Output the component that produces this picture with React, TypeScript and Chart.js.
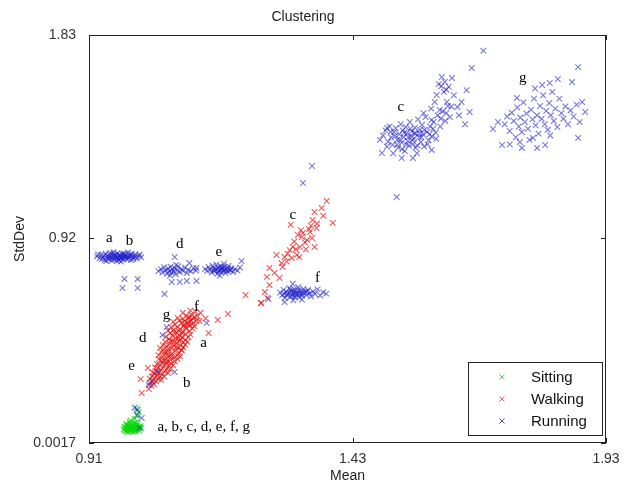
import React, { useEffect, useRef } from 'react';
import { Chart, registerables } from 'chart.js';

Chart.register(...registerables);

const chartTitle = 'Clustering';
const xAxisTitle = 'Mean';
const yAxisTitle = 'StdDev';
const xMin = 0.91;
const xMax = 1.93;
const yMin = 0.0017;
const yMax = 1.83;
const xTickValues = [0.91, 1.43, 1.93];
const xTickLabels = ['0.91', '1.43', '1.93'];
const yTickValues = [0.0017, 0.92, 1.83];
const yTickLabels = ['0.0017', '0.92', '1.83'];

const seriesNames = ['Sitting', 'Walking', 'Running'];
const seriesColors = ['rgba(10,215,10,0.8)', 'rgba(232,12,12,0.68)', 'rgba(30,30,200,0.6)'];
const legendColors = ['#66cc66', '#cc6666', '#555599'];

const sitting: [number, number][] = [
  [0.978, 0.062], [0.980, 0.075], [0.982, 0.055], [0.983, 0.088], [0.985, 0.068], [0.986, 0.050],
  [0.987, 0.080], [0.989, 0.062], [0.990, 0.095], [0.991, 0.072], [0.993, 0.056], [0.994, 0.084],
  [0.995, 0.066], [0.997, 0.077], [0.998, 0.052], [0.999, 0.090], [1.001, 0.070], [1.002, 0.060],
  [1.004, 0.082], [1.005, 0.066], [1.007, 0.074], [1.009, 0.058], [1.011, 0.078], [1.013, 0.068],
  [0.988, 0.070], [0.996, 0.060], [1.003, 0.092], [0.992, 0.102], [1.000, 0.110], [1.006, 0.125],
  [1.008, 0.140], [1.004, 0.155],
  [0.984, 0.060], [0.988, 0.058], [0.992, 0.065], [0.996, 0.072], [1.000, 0.064], [1.003, 0.076],
  [1.007, 0.063], [1.010, 0.072], [0.981, 0.068], [0.985, 0.078], [0.990, 0.082], [0.994, 0.070],
  [0.998, 0.080], [1.002, 0.054], [1.006, 0.086],
];

const walking: [number, number][] = [
  [1.028, 0.245], [1.033, 0.258], [1.030, 0.272], [1.038, 0.265], [1.036, 0.283], [1.042, 0.278],
  [1.040, 0.295], [1.047, 0.288], [1.034, 0.300], [1.045, 0.305], [1.051, 0.298], [1.039, 0.312],
  [1.048, 0.318], [1.055, 0.312], [1.043, 0.325], [1.052, 0.330], [1.060, 0.322], [1.046, 0.338],
  [1.057, 0.342], [1.064, 0.335], [1.050, 0.350], [1.061, 0.355], [1.068, 0.348], [1.054, 0.362],
  [1.066, 0.366], [1.072, 0.358], [1.058, 0.372], [1.048, 0.378], [1.063, 0.380], [1.071, 0.375],
  [1.078, 0.385], [1.055, 0.388], [1.068, 0.392], [1.084, 0.394], [1.060, 0.400], [1.074, 0.403],
  [1.088, 0.405], [1.052, 0.410], [1.066, 0.413], [1.080, 0.415], [1.093, 0.418], [1.058, 0.422],
  [1.072, 0.426], [1.086, 0.428], [1.063, 0.434], [1.077, 0.437], [1.091, 0.440], [1.069, 0.446],
  [1.083, 0.449], [1.096, 0.452], [1.074, 0.458], [1.088, 0.460], [1.100, 0.463], [1.068, 0.468],
  [1.081, 0.471], [1.094, 0.474], [1.106, 0.477], [1.075, 0.482], [1.088, 0.486], [1.100, 0.489],
  [1.070, 0.494], [1.083, 0.497], [1.095, 0.500], [1.108, 0.503], [1.077, 0.508], [1.090, 0.512],
  [1.102, 0.515], [1.084, 0.522], [1.097, 0.526], [1.110, 0.529], [1.080, 0.533], [1.092, 0.537],
  [1.104, 0.540], [1.098, 0.548], [1.112, 0.552], [1.088, 0.550], [1.106, 0.560], [1.118, 0.565],
  [1.095, 0.558],
  [1.030, 0.290], [1.052, 0.285], [1.058, 0.300], [1.036, 0.318], [1.066, 0.315], [1.040, 0.340],
  [1.070, 0.332], [1.044, 0.356], [1.076, 0.350], [1.047, 0.395], [1.079, 0.368], [1.085, 0.378],
  [1.050, 0.428], [1.090, 0.390], [1.096, 0.430], [1.100, 0.442], [1.056, 0.440], [1.060, 0.455],
  [1.062, 0.478], [1.104, 0.455], [1.110, 0.488], [1.066, 0.505], [1.072, 0.520], [1.114, 0.515],
  [1.116, 0.538], [1.076, 0.545], [1.085, 0.562], [1.102, 0.572], [1.112, 0.578], [1.095, 0.585],
  [1.120, 0.590], [1.078, 0.498], [1.086, 0.472], [1.092, 0.418], [1.065, 0.398], [1.082, 0.430],
  [1.070, 0.460], [1.094, 0.492], [1.098, 0.535], [1.108, 0.545], [1.073, 0.390], [1.059, 0.410],
  [1.053, 0.370], [1.062, 0.365], [1.067, 0.425], [1.079, 0.455], [1.091, 0.465], [1.087, 0.505],
  [1.100, 0.520], [1.106, 0.530],
  [1.115, 0.560], [1.122, 0.548], [1.118, 0.525], [1.124, 0.570], [1.110, 0.595],
  [1.184, 0.580], [1.146, 0.494], [1.108, 0.566], [1.219, 0.665], [1.249, 0.629], [1.012, 0.288],
  [1.014, 0.226], [1.026, 0.338], [1.130, 0.585], [1.140, 0.560], [1.128, 0.548], [1.164, 0.553],
  [1.379, 1.086], [1.355, 1.037], [1.369, 1.055], [1.391, 0.988], [1.308, 0.979], [1.351, 1.001],
  [1.359, 0.965], [1.346, 0.947], [1.332, 0.943], [1.322, 0.934], [1.350, 0.920], [1.340, 0.911],
  [1.355, 0.880], [1.326, 0.880], [1.312, 0.880], [1.306, 0.866], [1.320, 0.844], [1.296, 0.835],
  [1.310, 0.831], [1.280, 0.844], [1.290, 0.808], [1.266, 0.786], [1.276, 0.764], [1.261, 0.746],
  [1.286, 0.741], [1.266, 0.710], [1.250, 0.629], [1.262, 0.652], [1.257, 0.678], [1.330, 0.925],
  [1.336, 0.900], [1.318, 0.870], [1.302, 0.850], [1.344, 0.960], [1.328, 0.955], [1.315, 0.905],
  [1.338, 0.870], [1.325, 0.835], [1.300, 0.815], [1.292, 0.790], [1.360, 0.985], [1.372, 1.020],
  [1.348, 0.975],
];

const running: [number, number][] = [
  // a, b
  [0.926, 0.838], [0.931, 0.829], [0.934, 0.845], [0.938, 0.834], [0.941, 0.822], [0.943, 0.850],
  [0.946, 0.839], [0.948, 0.828], [0.951, 0.844], [0.953, 0.833], [0.955, 0.819], [0.957, 0.848],
  [0.959, 0.837], [0.961, 0.826], [0.962, 0.842], [0.964, 0.831], [0.966, 0.852], [0.968, 0.836],
  [0.969, 0.821], [0.971, 0.845], [0.972, 0.829], [0.974, 0.839], [0.976, 0.849], [0.977, 0.824],
  [0.979, 0.834], [0.981, 0.843], [0.983, 0.828], [0.985, 0.838], [0.987, 0.855], [0.989, 0.832],
  [0.991, 0.845], [0.993, 0.822], [0.995, 0.840], [0.998, 0.833], [1.001, 0.847], [1.004, 0.828],
  [1.008, 0.839], [1.013, 0.834], [0.944, 0.817], [0.958, 0.857], [0.973, 0.815], [0.980, 0.851],
  [0.928, 0.846], [0.936, 0.826], [0.940, 0.842], [0.949, 0.836], [0.952, 0.852], [0.956, 0.828],
  [0.960, 0.845], [0.963, 0.838], [0.967, 0.827], [0.970, 0.840], [0.975, 0.832], [0.978, 0.845],
  [0.982, 0.836], [0.986, 0.826], [0.990, 0.840], [0.994, 0.850], [0.997, 0.826], [1.002, 0.838],
  [1.010, 0.846], [0.965, 0.818], [0.950, 0.825],
  [0.980, 0.737], [1.006, 0.737], [0.976, 0.696], [1.006, 0.696],
  // d
  [1.047, 0.772], [1.052, 0.781], [1.055, 0.766], [1.058, 0.789], [1.061, 0.775], [1.064, 0.760],
  [1.066, 0.784], [1.068, 0.771], [1.071, 0.792], [1.073, 0.765], [1.075, 0.779], [1.077, 0.770],
  [1.079, 0.786], [1.081, 0.758], [1.084, 0.776], [1.086, 0.794], [1.089, 0.768], [1.092, 0.782],
  [1.095, 0.773], [1.099, 0.788], [1.103, 0.763], [1.106, 0.778], [1.111, 0.771], [1.116, 0.785],
  [1.121, 0.775], [1.070, 0.752], [1.082, 0.800],
  [1.079, 0.835], [1.108, 0.808], [1.122, 0.786], [1.073, 0.723], [1.089, 0.723], [1.103, 0.728],
  [1.122, 0.728], [1.059, 0.669],
  // e
  [1.139, 0.781], [1.143, 0.773], [1.146, 0.790], [1.149, 0.778], [1.152, 0.766], [1.154, 0.796],
  [1.157, 0.784], [1.159, 0.772], [1.161, 0.801], [1.163, 0.760], [1.165, 0.788], [1.167, 0.777],
  [1.169, 0.794], [1.171, 0.768], [1.173, 0.783], [1.175, 0.774], [1.177, 0.790], [1.179, 0.763],
  [1.181, 0.780], [1.183, 0.771], [1.185, 0.795], [1.188, 0.776], [1.191, 0.786], [1.194, 0.768],
  [1.198, 0.781], [1.203, 0.774], [1.208, 0.788], [1.168, 0.752], [1.176, 0.805], [1.211, 0.817],
  [1.160, 0.780], [1.166, 0.770], [1.172, 0.790], [1.178, 0.776], [1.184, 0.784], [1.156, 0.775],
  [1.170, 0.780], [1.190, 0.776],
  // near walking / sitting
  [1.063, 0.521], [1.055, 0.486], [1.142, 0.539], [1.079, 0.320], [1.045, 0.320], [1.035, 0.275],
  [1.028, 0.262], [1.004, 0.127], [1.006, 0.150], [1.014, 0.114], [1.000, 0.160], [1.264, 0.647],
  [1.010, 0.068],
  // f
  [1.287, 0.676], [1.291, 0.664], [1.294, 0.688], [1.297, 0.652], [1.300, 0.679], [1.302, 0.668],
  [1.305, 0.695], [1.307, 0.657], [1.309, 0.683], [1.311, 0.671], [1.313, 0.641], [1.315, 0.690],
  [1.317, 0.662], [1.319, 0.678], [1.321, 0.668], [1.323, 0.700], [1.325, 0.655], [1.327, 0.684],
  [1.329, 0.673], [1.331, 0.662], [1.333, 0.692], [1.336, 0.678], [1.339, 0.665], [1.342, 0.687],
  [1.345, 0.672], [1.348, 0.658], [1.352, 0.681], [1.356, 0.669], [1.361, 0.690], [1.366, 0.663],
  [1.372, 0.677], [1.378, 0.671], [1.312, 0.715], [1.330, 0.645], [1.296, 0.633],
  [1.300, 0.665], [1.306, 0.675], [1.310, 0.660], [1.314, 0.680], [1.318, 0.670], [1.322, 0.685],
  [1.326, 0.668], [1.332, 0.675], [1.316, 0.655], [1.308, 0.690], [1.340, 0.680], [1.295, 0.670],
  [1.350, 1.243], [1.332, 1.167],
  // c (top)
  [1.490, 1.380], [1.495, 1.402], [1.500, 1.352], [1.503, 1.420], [1.506, 1.371], [1.509, 1.338],
  [1.512, 1.395], [1.515, 1.412], [1.518, 1.360], [1.520, 1.325], [1.522, 1.385], [1.525, 1.430],
  [1.527, 1.348], [1.529, 1.402], [1.531, 1.372], [1.533, 1.310], [1.535, 1.418], [1.537, 1.390],
  [1.539, 1.355], [1.541, 1.335], [1.543, 1.440], [1.545, 1.378], [1.547, 1.398], [1.549, 1.342],
  [1.551, 1.365], [1.553, 1.415], [1.555, 1.388], [1.557, 1.300], [1.559, 1.452], [1.561, 1.372],
  [1.563, 1.405], [1.565, 1.350], [1.567, 1.428], [1.569, 1.385], [1.571, 1.330], [1.574, 1.462],
  [1.577, 1.396], [1.580, 1.358], [1.583, 1.420], [1.586, 1.375], [1.590, 1.440], [1.594, 1.392],
  [1.598, 1.470], [1.603, 1.420], [1.608, 1.488], [1.613, 1.445], [1.618, 1.512], [1.610, 1.575],
  [1.600, 1.610], [1.612, 1.620], [1.620, 1.598], [1.630, 1.560], [1.640, 1.470], [1.645, 1.530],
  [1.652, 1.430], [1.592, 1.530], [1.585, 1.500], [1.570, 1.480],
  [1.505, 1.395], [1.514, 1.378], [1.523, 1.362], [1.532, 1.392], [1.540, 1.372], [1.548, 1.360],
  [1.552, 1.390], [1.558, 1.335], [1.562, 1.390], [1.566, 1.372], [1.572, 1.405], [1.578, 1.340],
  [1.582, 1.385], [1.589, 1.410], [1.595, 1.365], [1.536, 1.340], [1.544, 1.410], [1.518, 1.338],
  [1.528, 1.318], [1.554, 1.325], [1.604, 1.455], [1.615, 1.480], [1.625, 1.510], [1.605, 1.600],
  [1.615, 1.585], [1.498, 1.330], [1.510, 1.300],
  [1.665, 1.682], [1.655, 1.583], [1.661, 1.485], [1.637, 1.507], [1.622, 1.462], [1.606, 1.642],
  [1.626, 1.637], [1.596, 1.561], [1.616, 1.530], [1.602, 1.494], [1.586, 1.449], [1.498, 1.413],
  [1.484, 1.360], [1.488, 1.301], [1.527, 1.279], [1.549, 1.279], [1.586, 1.315], [1.517, 1.104],
  [1.688, 1.760],
  // g (top)
  [1.730, 1.430], [1.735, 1.465], [1.740, 1.400], [1.744, 1.482], [1.748, 1.445], [1.752, 1.372],
  [1.755, 1.505], [1.758, 1.420], [1.761, 1.460], [1.764, 1.395], [1.767, 1.528], [1.770, 1.440],
  [1.773, 1.478], [1.776, 1.410], [1.779, 1.360], [1.782, 1.495], [1.785, 1.452], [1.788, 1.545],
  [1.791, 1.425], [1.794, 1.470], [1.797, 1.388], [1.800, 1.512], [1.803, 1.455], [1.806, 1.560],
  [1.809, 1.430], [1.812, 1.490], [1.815, 1.405], [1.818, 1.525], [1.821, 1.470], [1.824, 1.575],
  [1.827, 1.445], [1.830, 1.500], [1.834, 1.418], [1.838, 1.545], [1.842, 1.480], [1.846, 1.455],
  [1.850, 1.510], [1.855, 1.430], [1.860, 1.492], [1.866, 1.465], [1.872, 1.518], [1.878, 1.440],
  [1.740, 1.340], [1.760, 1.350], [1.820, 1.380], [1.790, 1.590],
  [1.875, 1.686], [1.863, 1.619], [1.835, 1.633], [1.819, 1.615], [1.804, 1.606], [1.883, 1.530],
  [1.889, 1.485], [1.875, 1.369], [1.754, 1.548], [1.717, 1.440], [1.707, 1.409], [1.725, 1.337],
  [1.764, 1.324], [1.794, 1.324], [1.810, 1.337], [1.786, 1.369],
];

const annotationTexts = ['a', 'b', 'd', 'e', 'g', 'f', 'd', 'a', 'e', 'b', 'c', 'f', 'c', 'g'];
const annotationX = [0.950, 0.990, 1.089, 1.166, 1.063, 1.122, 1.016, 1.136, 0.994, 1.103, 1.312, 1.361, 1.525, 1.766];
const annotationY = [0.920, 0.907, 0.893, 0.857, 0.575, 0.611, 0.472, 0.450, 0.347, 0.271, 1.023, 0.741, 1.507, 1.637];
const sittingNote = 'a, b, c, d, e, f, g';
const sittingNoteX = 1.045;
const sittingNoteY = 0.073;

const framePlugin = {
  id: 'frameAndNotes',
  afterDatasetsDraw(chart: any) {
    const { ctx, chartArea: a, scales } = chart;
    const xs = scales.x;
    const ys = scales.y;
    ctx.save();
    ctx.strokeStyle = '#222';
    ctx.lineWidth = 1;
    ctx.strokeRect(a.left + 0.5, a.top + 0.5, a.right - a.left - 1, a.bottom - a.top - 1);
    ctx.beginPath();
    xTickValues.forEach((v) => {
      const px = Math.round(xs.getPixelForValue(v)) + 0.5;
      ctx.moveTo(px, a.bottom);
      ctx.lineTo(px, a.bottom - 5);
      ctx.moveTo(px, a.top);
      ctx.lineTo(px, a.top + 5);
    });
    yTickValues.forEach((v) => {
      const py = Math.round(ys.getPixelForValue(v)) + 0.5;
      ctx.moveTo(a.left, py);
      ctx.lineTo(a.left + 5, py);
      ctx.moveTo(a.right, py);
      ctx.lineTo(a.right - 5, py);
    });
    ctx.stroke();
    ctx.fillStyle = '#000';
    ctx.font = '15px "Liberation Serif", "Times New Roman", serif';
    ctx.textAlign = 'center';
    ctx.textBaseline = 'middle';
    annotationTexts.forEach((t, i) => {
      ctx.fillText(t, xs.getPixelForValue(annotationX[i]), ys.getPixelForValue(annotationY[i]));
    });
    ctx.textAlign = 'left';
    ctx.fillText(sittingNote, xs.getPixelForValue(sittingNoteX), ys.getPixelForValue(sittingNoteY));
    ctx.restore();
  },
  afterDraw(chart: any) {
    const { ctx, chartArea: a } = chart;
    ctx.save();
    const boxRight = a.right - 4;
    const boxLeft = boxRight - 134;
    const boxBottom = a.bottom - 8;
    const boxTop = boxBottom - 73;
    ctx.fillStyle = '#fff';
    ctx.fillRect(boxLeft, boxTop, boxRight - boxLeft, boxBottom - boxTop);
    ctx.strokeStyle = '#222';
    ctx.lineWidth = 1;
    ctx.strokeRect(Math.round(boxLeft) + 0.5, Math.round(boxTop) + 0.5, boxRight - boxLeft, boxBottom - boxTop);
    ctx.font = '15px "Liberation Sans", Arial, sans-serif';
    ctx.textBaseline = 'middle';
    ctx.textAlign = 'left';
    chart.data.datasets.forEach((ds: any, i: number) => {
      const cy = boxTop + 15 + i * 22;
      const mx = boxLeft + 34;
      ctx.strokeStyle = legendColors[i];
      ctx.beginPath();
      ctx.moveTo(mx - 2.5, cy - 2.5);
      ctx.lineTo(mx + 2.5, cy + 2.5);
      ctx.moveTo(mx - 2.5, cy + 2.5);
      ctx.lineTo(mx + 2.5, cy - 2.5);
      ctx.stroke();
      ctx.fillStyle = '#111';
      ctx.fillText(ds.label, boxLeft + 63, cy + 1);
    });
    ctx.restore();
  },
};

export default function App() {
  const ref = useRef<HTMLCanvasElement | null>(null);
  useEffect(() => {
    document.body.style.margin = '0';
    const canvas = ref.current;
    if (!canvas) return;
    Chart.defaults.font.family = '"Liberation Sans", Arial, sans-serif';
    const series = [sitting, walking, running];
    const chart = new Chart(canvas, {
      type: 'scatter',
      data: {
        datasets: series.map((s, i) => ({
          label: seriesNames[i],
          data: s.map(([x, y]) => ({ x, y })),
          pointStyle: 'crossRot',
          radius: 4,
          borderWidth: 1.1,
          borderColor: seriesColors[i],
          backgroundColor: seriesColors[i],
          order: 2 - i,
        })),
      },
      options: {
        responsive: false,
        animation: false,
        devicePixelRatio: 1,
        layout: { padding: { top: 0, right: 27, bottom: 0, left: 0 } },
        plugins: {
          legend: { display: false },
          tooltip: { enabled: false },
          title: {
            display: true,
            text: chartTitle,
            color: '#222',
            font: { size: 14, weight: 'normal' },
            padding: { top: 8.6, bottom: 9.6 },
          },
        },
        scales: {
          x: {
            type: 'linear',
            min: xMin,
            max: xMax,
            grid: { display: false },
            border: { display: false },
            afterBuildTicks: (scale: any) => {
              scale.ticks = xTickValues.map((v) => ({ value: v }));
            },
            afterFit: (scale: any) => {
              scale.height = 43;
              scale.paddingLeft = 0;
              scale.paddingRight = 0;
            },
            ticks: {
              color: '#333',
              font: { size: 14 },
              padding: 0,
              maxRotation: 0,
              autoSkip: false,
              callback: (v: any) => {
                const i = xTickValues.indexOf(Number(v));
                return i >= 0 ? xTickLabels[i] : '';
              },
            },
            title: {
              display: true,
              text: xAxisTitle,
              color: '#222',
              font: { size: 14 },
              padding: { top: 0, bottom: 1 },
            },
          },
          y: {
            type: 'linear',
            min: yMin,
            max: yMax,
            grid: { display: false },
            border: { display: false },
            afterBuildTicks: (scale: any) => {
              scale.ticks = yTickValues.map((v) => ({ value: v }));
            },
            afterFit: (scale: any) => {
              scale.width = 89;
              scale.paddingTop = 0;
              scale.paddingBottom = 0;
            },
            ticks: {
              color: '#333',
              font: { size: 14 },
              padding: 5,
              autoSkip: false,
              callback: (v: any) => {
                const i = yTickValues.indexOf(Number(v));
                return i >= 0 ? yTickLabels[i] : '';
              },
            },
            title: {
              display: true,
              text: yAxisTitle,
              color: '#222',
              font: { size: 14 },
              padding: { top: 12, bottom: 0 },
            },
          },
        },
      },
      plugins: [framePlugin],
    } as any);
    return () => chart.destroy();
  }, []);
  return <canvas ref={ref} width={633} height={486} style={{ display: 'block' }} />;
}
